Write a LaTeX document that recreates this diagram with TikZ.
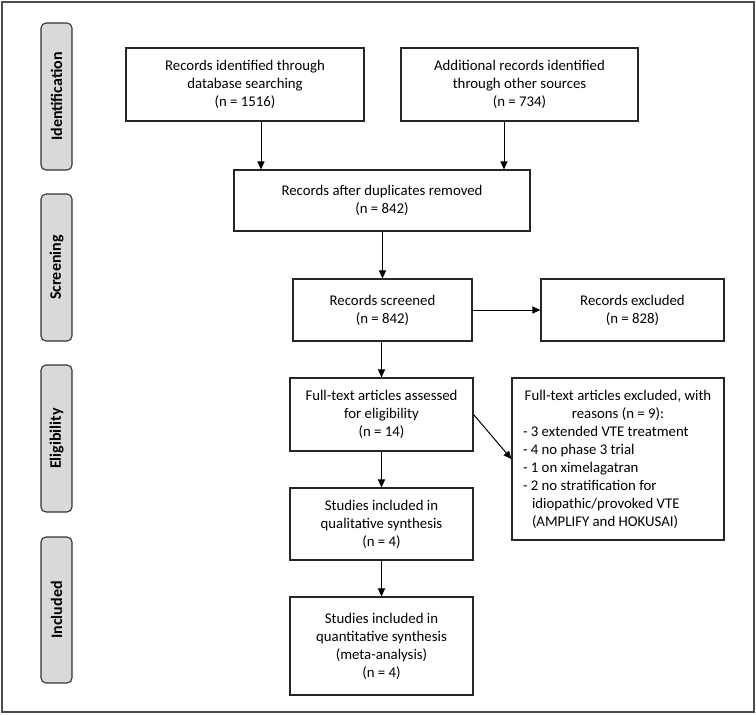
\documentclass[tikz,border=0pt]{standalone}
\usepackage{fontspec}
\setmainfont{Carlito}
\usetikzlibrary{arrows.meta}
\begin{document}
\begin{tikzpicture}[x=1pt,y=-1pt,
  box/.style={draw=black!85, line width=1.1pt, align=center, inner sep=0pt,
    font=\fontsize{14.8}{18}\selectfont},
  phase/.style={draw=black!80, fill=black!15, line width=1.1pt, rounded corners=5pt,
    minimum height=31pt, inner sep=0pt, rotate=90,
    font=\fontsize{16}{18}\selectfont\bfseries},
  arr/.style={line width=1pt, -{Triangle[length=8pt,width=7pt]}}]
\useasboundingbox (0,0) rectangle (756,715);
\draw[black!70, line width=1.5pt] (2,2) rectangle (754,712);

\node[phase, minimum width=147pt] (pI) at (56.5,96.5) {Identification};
\node[phase, minimum width=147pt] (pS) at (56.5,267.5) {Screening};
\node[phase, minimum width=147pt] (pE) at (56.5,438.5) {Eligibility};
\node[phase, minimum width=146pt] (pN) at (56.5,610) {Included};

\node[box, minimum width=238pt, minimum height=73pt] (b1) at (245,84.5)
  {Records identified through\\database searching\\(n = 1516)};
\node[box, minimum width=237pt, minimum height=73pt] (b2) at (519.5,84.5)
  {Additional records identified\\through other sources\\(n = 734)};
\node[box, minimum width=296pt, minimum height=61pt] (dup) at (382,200.5)
  {Records after duplicates removed\\(n = 842)};
\node[box, minimum width=179pt, minimum height=62pt] (scr) at (382.5,310)
  {Records screened\\(n = 842)};
\node[box, minimum width=183pt, minimum height=62pt] (exc) at (632.5,310)
  {Records excluded\\(n = 828)};
\node[box, minimum width=183pt, minimum height=73pt] (full) at (381.5,414.5)
  {Full-text articles assessed\\for eligibility\\(n = 14)};
\node[box, minimum width=212pt, minimum height=162pt, align=left] (rea) at (618,459)
  {\makebox[190pt][c]{Full-text articles excluded, with}\\
   \makebox[190pt][c]{reasons (n = 9):}\\
   - 3 extended VTE treatment\\
   - 4 no phase 3 trial\\
   - 1 on ximelagatran\\
   - 2 no stratification for\\
   \hspace*{9pt}idiopathic/provoked VTE\\
   \hspace*{9pt}(AMPLIFY and HOKUSAI)\hspace*{30pt}};
\node[box, minimum width=183pt, minimum height=72pt] (qual) at (381.5,524)
  {Studies included in\\qualitative synthesis\\(n = 4)};
\node[box, minimum width=183pt, minimum height=98pt] (quan) at (381.5,646)
  {Studies included in\\quantitative synthesis\\(meta-analysis)\\(n = 4)};

\draw[arr] (b1.south -| 261,0) -- (dup.north -| 261,0);
\draw[arr] (b2.south -| 504,0) -- (dup.north -| 504,0);
\draw[arr] (dup.south -| scr.north) -- (scr.north);
\draw[arr] (scr.east) -- (exc.west);
\draw[arr] (scr.south -| full.north) -- (full.north);
\draw[arr] (full.east) -- (rea.west);
\draw[arr] (full.south) -- (qual.north);
\draw[arr] (qual.south) -- (quan.north);
\end{tikzpicture}
\end{document}
